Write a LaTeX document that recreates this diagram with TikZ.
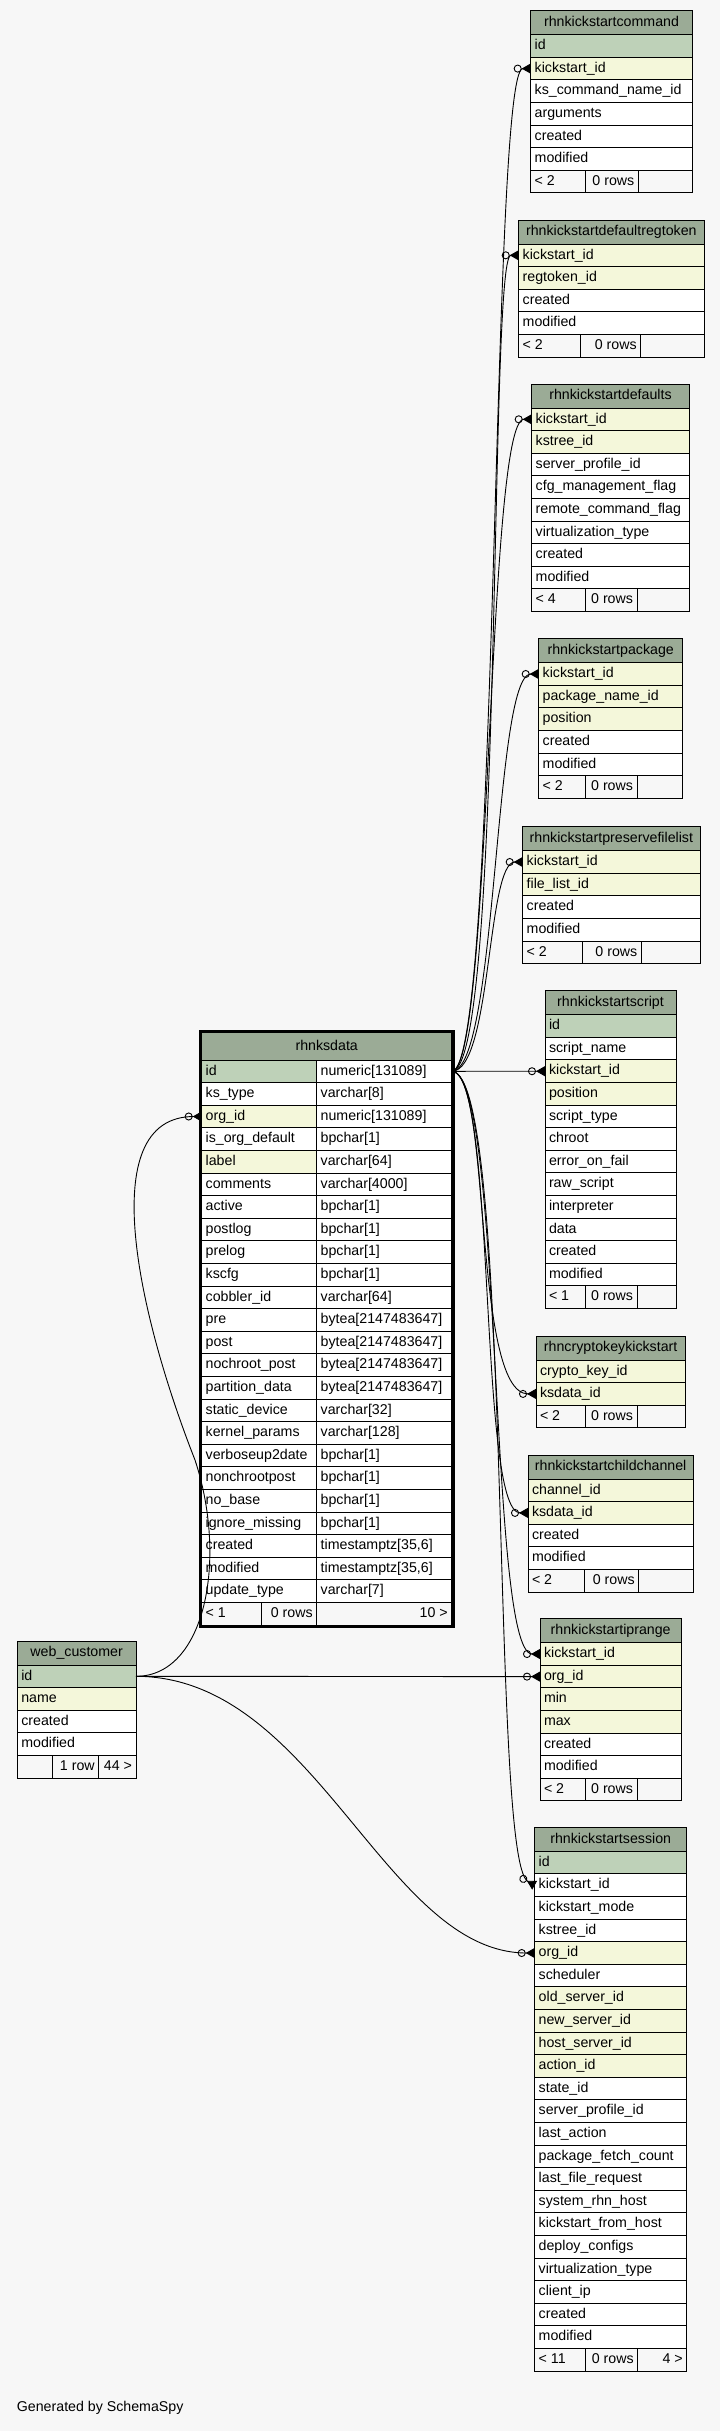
\documentclass[tikz,border=0pt]{standalone}
\usepackage{fontspec}
\setmainfont{Liberation Sans}
\usetikzlibrary{arrows.meta}
\definecolor{headgreen}{HTML}{9BAB96}
\definecolor{pkgreen}{HTML}{BED1B8}
\definecolor{ixyellow}{HTML}{F4F7DA}
\definecolor{pagebg}{HTML}{F7F7F7}
% table: name, x, y, width, title, columns
\newcommand{\dbtable}[6]{%
  \node[tblhead,minimum width=#4] (#1) at (#2,#3) {#5};
  \foreach \cname/\ckind [count=\i] in {#6}
    \node[tblcell,\ckind,minimum width=#4] (#1\i) at (#2,{#3+24+(\i-1)*22.6})
      {\makebox[#4pt][l]{\hspace{4pt}\cname}};
}
% footer: name, last row, three widths, three texts
\newcommand{\dbfoot}[8]{%
  \node[tblfoot,minimum width=#3] (#1f1) at (#2.south west) {\makebox[#3pt][l]{\hspace{4pt}#6}};
  \node[tblfoot,minimum width=#4] (#1f2) at (#1f1.north east) {\makebox[#4pt][r]{#7\hspace{4pt}}};
  \node[tblfoot,minimum width=#5] (#1f3) at (#1f2.north east) {\makebox[#5pt][r]{#8\hspace{4pt}}};
}
\begin{document}
\begin{tikzpicture}[x=1pt,y=-1pt,font=\fontsize{14.2}{17}\selectfont,
    tblhead/.style={draw=black,line width=1pt,fill=headgreen,minimum height=24pt,inner sep=0pt,
      outer sep=0pt,anchor=north west,text height=10.5pt,text depth=3pt},
    tblcell/.style={draw=black,line width=1pt,fill=white,minimum height=22.6pt,inner sep=0pt,
      outer sep=0pt,anchor=north west,text height=10.5pt,text depth=3pt},
    tblfoot/.style={tblcell,fill=pagebg},
    pkcol/.style={fill=pkgreen},
    ixcol/.style={fill=ixyellow},
    nocol/.style={fill=white},
    fk/.style={line width=0.9pt,-{Circle[open,length=8pt,width=8pt] Triangle[reversed,length=9pt,width=10pt]}}]
  \path[use as bounding box,fill=pagebg] (0,0) rectangle (720,2431);

  % child tables on the right
  \dbtable{cmd}{530.7}{10.7}{161.6}{rhnkickstartcommand}{id/pkcol,kickstart\_id/ixcol,ks\_command\_name\_id/nocol,arguments/nocol,created/nocol,modified/nocol}
  \dbfoot{cmd}{cmd6}{54.3}{53.3}{54}{< 2}{0 rows}{}

  \dbtable{dreg}{518.7}{220}{185.3}{rhnkickstartdefaultregtoken}{kickstart\_id/ixcol,regtoken\_id/ixcol,created/nocol,modified/nocol}
  \dbfoot{dreg}{dreg4}{62}{60}{63.3}{< 2}{0 rows}{}

  \dbtable{dflt}{531.7}{384}{157.6}{rhnkickstartdefaults}{kickstart\_id/ixcol,kstree\_id/ixcol,server\_profile\_id/nocol,cfg\_management\_flag/nocol,remote\_command\_flag/nocol,virtualization\_type/nocol,created/nocol,modified/nocol}
  \dbfoot{dflt}{dflt8}{53.3}{52}{52.3}{< 4}{0 rows}{}

  \dbtable{pkg}{538.7}{638.7}{144}{rhnkickstartpackage}{kickstart\_id/ixcol,package\_name\_id/ixcol,position/ixcol,created/nocol,modified/nocol}
  \dbfoot{pkg}{pkg5}{46.3}{52}{45.7}{< 2}{0 rows}{}

  \dbtable{pfl}{522.7}{826.7}{177.3}{rhnkickstartpreservefilelist}{kickstart\_id/ixcol,file\_list\_id/ixcol,created/nocol,modified/nocol}
  \dbfoot{pfl}{pfl4}{60}{58.6}{58.7}{< 2}{0 rows}{}

  \dbtable{scr}{545}{990.7}{131}{rhnkickstartscript}{id/pkcol,script\_name/nocol,kickstart\_id/ixcol,position/ixcol,script\_type/nocol,chroot/nocol,error\_on\_fail/nocol,raw\_script/nocol,interpreter/nocol,data/nocol,created/nocol,modified/nocol}
  \dbfoot{scr}{scr12}{40}{52}{39}{< 1}{0 rows}{}

  \dbtable{cky}{536}{1336}{149.3}{rhncryptokeykickstart}{crypto\_key\_id/ixcol,ksdata\_id/ixcol}
  \dbfoot{cky}{cky2}{49}{52}{48.3}{< 2}{0 rows}{}

  \dbtable{chc}{528}{1455}{165.3}{rhnkickstartchildchannel}{channel\_id/ixcol,ksdata\_id/ixcol,created/nocol,modified/nocol}
  \dbfoot{chc}{chc4}{56}{54.7}{54.6}{< 2}{0 rows}{}

  \dbtable{ipr}{540}{1618.7}{141.3}{rhnkickstartiprange}{kickstart\_id/ixcol,org\_id/ixcol,min/ixcol,max/ixcol,created/nocol,modified/nocol}
  \dbfoot{ipr}{ipr6}{45.3}{51.7}{44.3}{< 2}{0 rows}{}

  \dbtable{ses}{534.7}{1827.3}{152}{rhnkickstartsession}{id/pkcol,kickstart\_id/nocol,kickstart\_mode/nocol,kstree\_id/nocol,org\_id/ixcol,scheduler/nocol,old\_server\_id/ixcol,new\_server\_id/ixcol,host\_server\_id/ixcol,action\_id/ixcol,state\_id/nocol,server\_profile\_id/nocol,last\_action/nocol,package\_fetch\_count/nocol,last\_file\_request/nocol,system\_rhn\_host/nocol,kickstart\_from\_host/nocol,deploy\_configs/nocol,virtualization\_type/nocol,client\_ip/nocol,created/nocol,modified/nocol}
  \dbfoot{ses}{ses22}{50.3}{52.7}{49}{< 11}{0 rows}{4 >}

  % parent tables
  \dbtable{wc}{17.3}{1641}{118.7}{web\_customer}{id/pkcol,name/ixcol,created/nocol,modified/nocol}
  \dbfoot{wc}{wc4}{35.4}{46}{37.3}{}{1 row}{44 >}

  \node[tblhead,minimum width=250,minimum height=27.3pt] (ksd) at (201.7,1032.7) {rhnksdata};
  \foreach \cname/\ckind/\ctype [count=\i] in {id/pkcol/numeric[131089],ks\_type/nocol/varchar[8],
      org\_id/ixcol/numeric[131089],is\_org\_default/nocol/bpchar[1],label/ixcol/varchar[64],
      comments/nocol/varchar[4000],active/nocol/bpchar[1],postlog/nocol/bpchar[1],prelog/nocol/bpchar[1],
      kscfg/nocol/bpchar[1],cobbler\_id/nocol/varchar[64],pre/nocol/bytea[2147483647],
      post/nocol/bytea[2147483647],nochroot\_post/nocol/bytea[2147483647],
      partition\_data/nocol/bytea[2147483647],static\_device/nocol/varchar[32],
      kernel\_params/nocol/varchar[128],verboseup2date/nocol/bpchar[1],nonchrootpost/nocol/bpchar[1],
      no\_base/nocol/bpchar[1],ignore\_missing/nocol/bpchar[1],created/nocol/{timestamptz[35,6]},
      modified/nocol/{timestamptz[35,6]},update\_type/nocol/varchar[7]} {
    \node[tblcell,\ckind,minimum width=115] (ksd\i) at (201.7,{1060+(\i-1)*22.6})
      {\makebox[115pt][l]{\hspace{4pt}\cname}};
    \node[tblcell,minimum width=135] (ksdt\i) at (316.7,{1060+(\i-1)*22.6})
      {\makebox[135pt][l]{\hspace{4pt}\ctype}};
  }
  \dbfoot{ksd}{ksd24}{59.3}{55.7}{135}{< 1}{0 rows}{10 >}
  \draw[line width=3pt] (200.2,1031.2) rectangle (453.2,1626.6);

  % foreign keys
  \draw[fk] (ksdt1.east) .. controls +(48,0) and +(-40,0) .. (cmd2.west);
  \draw[fk] (ksdt1.east) .. controls +(52,0) and +(-30,0) .. (dreg1.west);
  \draw[fk] (ksdt1.east) .. controls +(40,0) and +(-45,0) .. (dflt1.west);
  \draw[fk] (ksdt1.east) .. controls +(46,0) and +(-45,0) .. (pkg1.west);
  \draw[fk] (ksdt1.east) .. controls +(40,0) and +(-36,0) .. (pfl1.west);
  \draw[fk] (ksdt1.east) -- (scr3.west);
  \draw[fk] (ksdt1.east) .. controls +(40,0) and +(-64,0) .. (cky2.west);
  \draw[fk] (ksdt1.east) .. controls +(45,0) and +(-50,0) .. (chc2.west);
  \draw[fk] (ksdt1.east) .. controls +(52,0) and +(-52,0) .. (ipr1.west);
  \draw[fk] (ksdt1.east) .. controls +(62,0) and +(-45,-25) .. (ses2.west);
  \draw[fk] (wc1.east) -- (ipr2.west);
  \draw[fk] (wc1.east) .. controls +(180,0) and +(-150,0) .. (ses5.west);
  \coordinate (wcbend) at (195,1460);
  \draw[fk] (wc1.east) .. controls +(69,0) and +(33,100) .. (wcbend)
    .. controls +(-55,-140) and +(-110,0) .. (ksd3.west);

  \node[anchor=west,inner sep=0pt] (genby) at (16.7,2408) {Generated by SchemaSpy};
\end{tikzpicture}
\end{document}
